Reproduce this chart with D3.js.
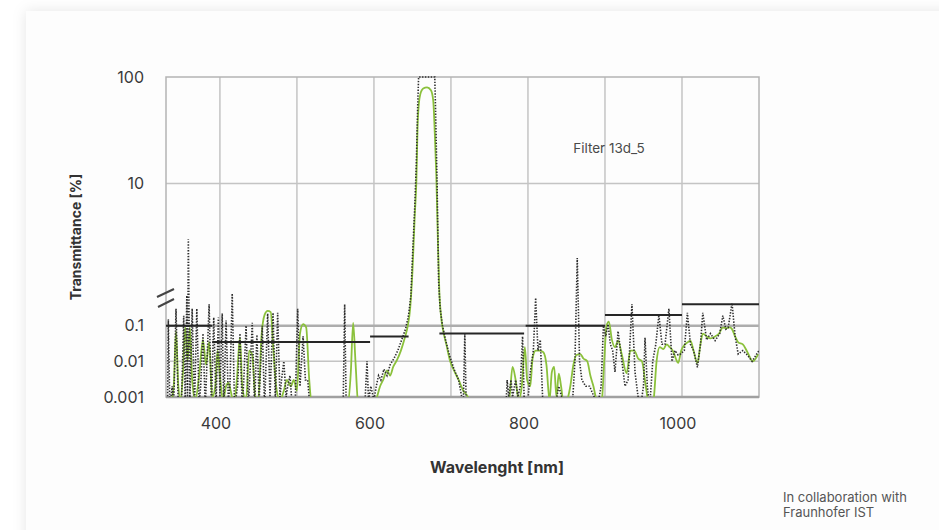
<!DOCTYPE html>
<html>
<head>
<meta charset="utf-8">
<script src="https://cdn.jsdelivr.net/npm/d3@7"></script>
<style>
  body { margin: 0; background: #ffffff; }
  svg { display: block; font-family: Inter, "Noto Sans", sans-serif; }
</style>
</head>
<body>
<script>
// wavelength (nm) and transmittance (%)
var calcWl = [332, 333, 335, 338, 340, 343, 346, 349, 350, 353, 355, 357, 358, 359, 361, 364, 367, 370, 373, 375,
    378, 381, 386, 389, 392, 395, 398, 400, 403, 405, 408, 411, 413, 416, 419, 423, 426, 429, 431, 434,
    437, 442, 445, 448, 451, 455, 458, 462, 465, 469, 472, 475, 478, 480, 483, 486, 488, 491, 494, 498,
    501, 504, 508, 511, 514, 517, 520, 558, 560, 562, 564, 580, 588, 591, 593, 596,
    600, 603, 606, 609, 613, 617, 621, 626, 631, 636, 641, 645, 648, 650, 653, 655, 657, 658, 679, 680,
    682, 684, 686, 689, 693, 698, 704, 710, 714, 716, 718, 720, 760,
    770, 772, 773, 775, 778, 780, 784, 787, 790, 793, 795, 800, 803, 807, 810, 813, 816, 819, 825, 835,
    840, 845, 858, 861, 864, 867, 870, 875, 880, 886, 890, 895, 898, 901, 904, 907, 910, 913, 917, 922,
    926, 930, 935, 939, 943, 946, 950, 952, 955, 958, 962, 966, 970, 974, 978, 983, 987, 991, 995, 998,
    1003, 1007, 1011, 1015, 1020, 1024, 1027, 1032, 1037, 1043, 1049, 1053, 1057, 1060, 1065, 1069, 1073, 1079, 1085, 1091,
    1097, 1100];
var calcT = [0.0005, 0.15, 0.0005, 0.002, 0.0005, 0.3, 0.0005, 0.001, 0.0005, 0.19, 0.0005, 0.7, 0.001, 3, 0.0008, 0.3, 0.0005, 0.3, 0.0006, 0.002,
    0.06, 0.0005, 0.4, 0.0005, 0.17, 0.0006, 0.17, 0.001, 0.22, 0.0005, 0.14, 0.0008, 0.002, 0.8, 0.0005, 0.002, 0.06, 0.0005, 0.003, 0.1,
    0.0005, 0.12, 0.0005, 0.055, 0.0008, 0.1, 0.0005, 0.22, 0.001, 0.23, 0.0008, 0.23, 0.001, 0.003, 0.01, 0.001, 0.002, 0.004, 0.0005, 0.001,
    0.3, 0.002, 0.05, 0.003, 0.003, 0.0005, 0.0003, 0.0003, 0.0005, 0.4, 0.0005, 0.0003, 0.0005, 0.01, 0.0008, 0.002,
    0.0008, 0.002, 0.004, 0.003, 0.006, 0.004, 0.008, 0.012, 0.02, 0.04, 0.08, 0.2, 0.7, 2, 6, 15, 60, 100, 100, 50,
    10, 1.2, 0.3, 0.1, 0.04, 0.015, 0.006, 0.003, 0.001, 0.0005, 0.06, 0.0004, 0.0003,
    0.0005, 0.001, 0.003, 0.001, 0.003, 0.001, 0.003, 0.001, 0.002, 0.05, 0.001, 0.0008, 0.005, 0.02, 0.6, 0.02, 0.04, 0.001, 0.0005, 0.0005,
    0.002, 0.0008, 0.0008, 0.01, 2, 0.01, 0.003, 0.002, 0.002, 0.001, 0.0005, 0.002, 0.1, 0.05, 0.11, 0.03, 0.02, 0.005, 0.07, 0.01,
    0.002, 0.003, 0.4, 0.005, 0.001, 0.0005, 0.002, 0.046, 0.002, 0.0005, 0.01, 0.03, 0.2, 0.03, 0.03, 0.3, 0.01, 0.02, 0.015, 0.016,
    0.02, 0.23, 0.03, 0.02, 0.0068, 0.03, 0.23, 0.04, 0.06, 0.038, 0.06, 0.19, 0.08, 0.088, 0.43, 0.05, 0.016, 0.02, 0.015, 0.01,
    0.016, 0.02];

var measWl = [335, 340, 343, 346, 349, 352, 355, 358, 361, 364, 368, 373, 378, 382, 386, 390, 394, 397, 400, 404,
    408, 411, 414, 418, 422, 426, 429, 434, 438, 442, 446, 450, 454, 458, 462, 466, 469, 473, 478, 483,
    487, 492, 496, 500, 504, 508, 512, 516, 520, 565, 570, 573, 576, 580, 600,
    604, 608, 612, 617, 621, 625, 630, 635, 640, 644, 647, 650, 653, 655, 657, 660, 664, 669, 674, 677,
    679, 681, 683, 685, 687, 690, 694, 699, 705, 710, 716, 722, 726, 770,
    776, 780, 784, 788, 792, 796, 799, 803, 806, 810, 815, 820, 824, 828, 831, 834, 837, 840, 843, 847,
    851, 855, 859, 863, 868, 872, 877, 881, 885, 889, 893, 896, 899, 902, 905, 909, 913, 917, 922, 928,
    933, 938, 943, 948, 953, 958, 963, 967, 971, 976, 980, 984, 988, 992, 995, 999, 1004, 1008, 1011, 1015,
    1020, 1024, 1027, 1032, 1037, 1043, 1048, 1053, 1058, 1062, 1065, 1069, 1073, 1079, 1085, 1092, 1099];
var measT = [0.0005, 0.002, 0.07, 0.002, 0.0008, 0.005, 0.09, 0.01, 0.09, 0.003, 0.0008, 0.004, 0.04, 0.008, 0.035, 0.001, 0.002, 0.02, 0.004, 0.0008,
    0.002, 0.0025, 0.0015, 0.0006, 0.003, 0.046, 0.002, 0.0008, 0.02, 0.015, 0.001, 0.0009, 0.05, 0.2, 0.26, 0.24, 0.03, 0.002, 0.0008, 0.0015,
    0.003, 0.002, 0.003, 0.0015, 0.06, 0.11, 0.09, 0.003, 0.0005, 0.0005, 0.005, 0.12, 0.01, 0.0005, 0.0005,
    0.001, 0.002, 0.003, 0.0056, 0.004, 0.007, 0.011, 0.02, 0.045, 0.1, 0.3, 1.5, 5, 10, 40, 68, 78, 80, 75, 60,
    30, 12, 3, 0.8, 0.2, 0.07, 0.03, 0.01, 0.005, 0.003, 0.0015, 0.001, 0.0005, 0.0005,
    0.001, 0.007, 0.003, 0.0008, 0.002, 0.025, 0.003, 0.002, 0.012, 0.02, 0.02, 0.018, 0.008, 0.0008, 0.005, 0.007, 0.001, 0.0045, 0.002, 0.0005,
    0.0008, 0.002, 0.008, 0.015, 0.016, 0.012, 0.01, 0.004, 0.002, 0.0008, 0.0005, 0.0008, 0.01, 0.1, 0.13, 0.04, 0.025, 0.038, 0.015, 0.0046,
    0.02, 0.02, 0.012, 0.01, 0.002, 0.0005, 0.0008, 0.01, 0.025, 0.022, 0.03, 0.025, 0.02, 0.012, 0.009, 0.02, 0.03, 0.035, 0.038, 0.02,
    0.009, 0.03, 0.06, 0.05, 0.044, 0.05, 0.06, 0.088, 0.085, 0.09, 0.08, 0.05, 0.034, 0.03, 0.018, 0.01, 0.016];

// blocking specification steps
var specFrom = [330, 390, 595, 685, 797, 900, 1000];
var specTo = [390, 595, 645, 795, 900, 1000, 1100];
var specT = [0.1, 0.035, 0.05, 0.06, 0.1, 0.2, 0.4];

var xTicks = [400, 600, 800, 1000];
var xGrid = [400, 500, 600, 700, 800, 900, 1000];
var yTicks = [0.001, 0.01, 0.1, 10, 100];
var yTickText = ["0.001", "0.01", "0.1", "10", "100"];

var W = 939, H = 530;
var pLeft = 166, pRight = 759, pTop = 77, pBottom = 397;

var svg = d3.select("body").append("svg").attr("width", W).attr("height", H);

var defs = svg.append("defs");
var shadow = defs.append("filter").attr("id", "shadow")
    .attr("x", "-5%").attr("y", "-5%").attr("width", "110%").attr("height", "110%");
shadow.append("feDropShadow").attr("dx", 0).attr("dy", 0)
    .attr("stdDeviation", 7).attr("flood-color", "#000").attr("flood-opacity", 0.1);
defs.append("clipPath").attr("id", "plot")
    .append("rect").attr("x", pLeft).attr("y", pTop - 2)
    .attr("width", pRight - pLeft).attr("height", pBottom - pTop + 2);

// card
svg.append("rect").attr("x", 26).attr("y", 11).attr("width", 960).attr("height", 560)
    .attr("fill", "#fdfdfd").attr("filter", "url(#shadow)");

var x = d3.scaleLinear().domain([330, 1100]).range([pLeft, pRight]);
// broken log axis: 0.001..1 compressed, 1..100 expanded
var y = d3.scaleLog().domain([0.001, 1, 100]).range([pBottom, 290, pTop]);

// grid
var grid = svg.append("g");
grid.selectAll(".vg").data(xGrid).enter().append("line")
    .attr("x1", (d) => x(d)).attr("x2", (d) => x(d))
    .attr("y1", pTop).attr("y2", pBottom)
    .style("stroke", "#c4c4c4").style("stroke-width", "1.5px");
grid.selectAll(".hg").data([10, 0.01]).enter().append("line")
    .attr("x1", pLeft).attr("x2", pRight)
    .attr("y1", (d) => y(d)).attr("y2", (d) => y(d))
    .style("stroke", "#c4c4c4").style("stroke-width", "1.5px");
grid.append("line").attr("x1", pLeft).attr("x2", pRight)
    .attr("y1", y(0.1)).attr("y2", y(0.1))
    .style("stroke", "#adadad").style("stroke-width", "2.5px");
grid.append("rect").attr("x", pLeft).attr("y", pTop)
    .attr("width", pRight - pLeft).attr("height", pBottom - pTop)
    .style("fill", "none").style("stroke", "#b4b4b4").style("stroke-width", "1.5px");
grid.append("line").attr("x1", pLeft).attr("x2", pRight)
    .attr("y1", pBottom).attr("y2", pBottom)
    .style("stroke", "#a0a0a0").style("stroke-width", "2.5px");

var plot = svg.append("g").attr("clip-path", "url(#plot)");

var measLine = d3.line()
    .x((d, i) => x(measWl[i]))
    .y((d) => y(d))
    .curve(d3.curveMonotoneX);
plot.append("path").datum(measT).attr("d", measLine)
    .style("fill", "none").style("stroke", "#8bc13c").style("stroke-width", "1.8px");

var calcLine = d3.line()
    .x((d, i) => x(calcWl[i]))
    .y((d) => y(d));
plot.append("path").datum(calcT).attr("d", calcLine)
    .style("fill", "none").style("stroke", "#2e2e2e").style("stroke-width", "1.6px")
    .style("stroke-dasharray", "1.4,1.5");

// spec steps
svg.append("g").selectAll("line").data(specT).enter().append("line")
    .attr("x1", (d, i) => x(specFrom[i])).attr("x2", (d, i) => x(specTo[i]))
    .attr("y1", (d) => y(d)).attr("y2", (d) => y(d))
    .style("stroke", "#262626").style("stroke-width", "2px");

// axis break marks
var brk = svg.append("g").style("stroke", "#444").style("stroke-width", "2px");
brk.append("line").attr("x1", pLeft - 9).attr("y1", 297).attr("x2", pLeft + 8).attr("y2", 289);
brk.append("line").attr("x1", pLeft - 8).attr("y1", 307).attr("x2", pLeft + 8).attr("y2", 299);

// tick labels
svg.append("g").selectAll("text").data(yTicks).enter().append("text")
    .attr("x", 144).attr("y", (d) => y(d)).attr("dy", "0.35em")
    .attr("text-anchor", "end").style("font-size", "16px").style("fill", "#3a3a3a")
    .text((d, i) => yTickText[i]);
svg.append("g").selectAll("text").data(xTicks).enter().append("text")
    .attr("x", (d) => x(d) - 4).attr("y", 423).attr("dy", "0.35em")
    .attr("text-anchor", "middle").style("font-size", "16px").style("fill", "#3a3a3a")
    .text((d) => d);

svg.append("text").attr("transform", "translate(76,237) rotate(-90)")
    .attr("text-anchor", "middle").attr("dy", "0.35em")
    .style("font-size", "14px").style("font-weight", "bold").style("fill", "#333")
    .text("Transmittance [%]");
svg.append("text").attr("x", 497).attr("y", 467).attr("dy", "0.35em")
    .attr("text-anchor", "middle")
    .style("font-size", "16px").style("font-weight", "bold").style("fill", "#333")
    .text("Wavelenght [nm]");

svg.append("text").attr("x", 609).attr("y", 148).attr("dy", "0.35em")
    .attr("text-anchor", "middle").style("font-size", "13.5px").style("fill", "#4a4a4a")
    .text("Filter 13d_5");

var note = svg.append("text").style("font-size", "13px").style("fill", "#555");
note.append("tspan").attr("x", 783).attr("y", 497).attr("dy", "0.35em").text("In collaboration with");
note.append("tspan").attr("x", 783).attr("y", 512).attr("dy", "0.35em").text("Fraunhofer IST");
</script>
</body>
</html>
